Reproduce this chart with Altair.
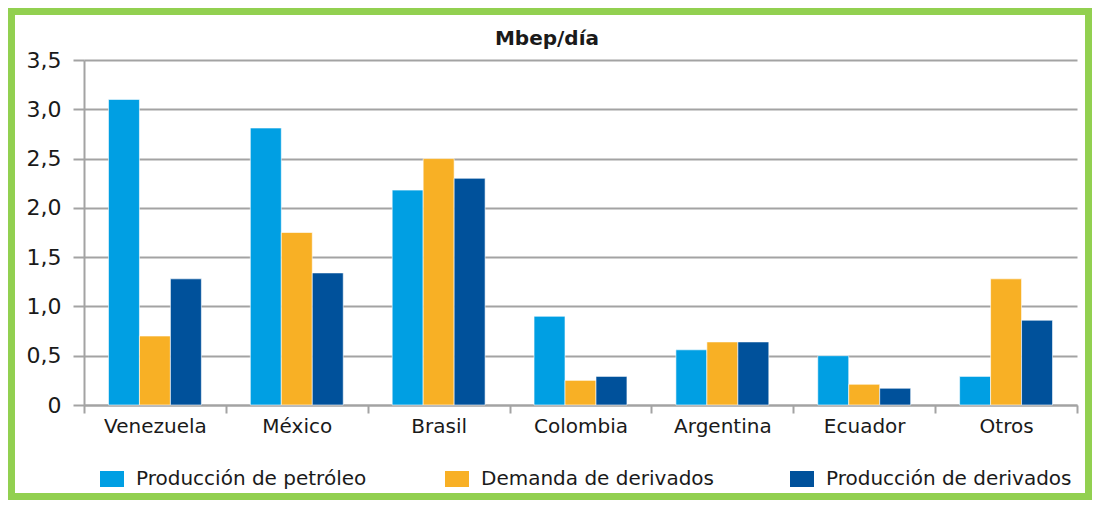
import altair as alt
import pandas as pd

countries = ["Venezuela", "México", "Brasil", "Colombia", "Argentina", "Ecuador", "Otros"]
series = ["Producción de petróleo", "Demanda de derivados", "Producción de derivados"]
prod_petroleo = [3.10, 2.81, 2.18, 0.90, 0.56, 0.50, 0.29]
demanda_derivados = [0.70, 1.75, 2.50, 0.25, 0.64, 0.21, 1.28]
prod_derivados = [1.28, 1.34, 2.30, 0.29, 0.64, 0.17, 0.86]
y_ticks = [0, 0.5, 1.0, 1.5, 2.0, 2.5, 3.0, 3.5]
title_text = ["Mbep/día"]

colors = ["#009FE3", "#F8B025", "#00519B"]
grid_gray = "#A3A3A3"
green = "#92D050"

rows = []
for s, vals in zip(series, [prod_petroleo, demanda_derivados, prod_derivados]):
    for c, v in zip(countries, vals):
        rows.append({"pais": c, "serie": s, "valor": v})
df = pd.DataFrame(rows)

W, H = 1084, 492
PL, PT, PR, PB = 76, 52, 15, 95
pw = W - PL - PR
ph = H - PT - PB

font = "DejaVu Sans"

bars = alt.Chart(df).mark_bar(stroke="white", strokeWidth=0.6).encode(
    x=alt.X(
        "pais:N", sort=countries,
        scale=alt.Scale(paddingInner=0, paddingOuter=0),
        axis=alt.Axis(
            title=None, labelAngle=0, labelFontSize=20, labelColor="#1a1a1a",
            labelFont=font, labelPadding=3, tickBand="extent", tickSize=8,
            tickColor=grid_gray, tickWidth=2, domainColor=grid_gray, domainWidth=2,
            grid=False,
        ),
    ),
    xOffset=alt.XOffset("serie:N", sort=series,
                        scale=alt.Scale(paddingInner=0, paddingOuter=0.79)),
    y=alt.Y(
        "valor:Q",
        scale=alt.Scale(domain=[0, 3.5], nice=False),
        axis=alt.Axis(
            title=None, values=y_ticks,
            labelExpr="datum.value == 0 ? '0' : replace(format(datum.value, '.1f'), '.', ',')",
            labelFontSize=22, labelFont=font, labelColor="#1a1a1a", labelPadding=12,
            tickSize=11, tickColor=grid_gray, tickWidth=2,
            domainColor=grid_gray, domainWidth=2,
            grid=True, gridColor=grid_gray, gridWidth=2,
        ),
    ),
    color=alt.Color(
        "serie:N", sort=series,
        scale=alt.Scale(domain=series, range=colors),
        legend=alt.Legend(
            title=None, orient="none", legendX=18, legendY=409, direction="horizontal",
            columns=3, gridAlign="all", columnPadding=63,
            symbolType="M-1.5,-1L1.5,-1L1.5,1L-1.5,1Z",
            symbolSize=256, symbolStrokeWidth=0, labelFontSize=20, labelFont=font,
            labelColor="#1a1a1a", labelOffset=14, labelLimit=400,
        ),
    ),
)

title = alt.Chart(pd.DataFrame({"t": title_text})).mark_text(
    fontSize=20, fontWeight="bold", font=font, color="#1a1a1a", baseline="middle", align="center"
).encode(text="t:N", x=alt.value(463), y=alt.value(-21))

border = alt.Chart(pd.DataFrame({"b": [0]})).mark_rect(
    fill=None, stroke=green, strokeWidth=7
).encode(
    x=alt.value(-PL + 3.5), x2=alt.value(W - PL - 3.5),
    y=alt.value(-PT + 3.5), y2=alt.value(H - PT - 3.5),
)

chart = alt.layer(bars, title, border).properties(
    width=pw, height=ph,
    autosize=alt.AutoSizeParams(type="none"),
    padding={"left": PL, "top": PT, "right": PR, "bottom": PB},
    background="white",
).configure_view(stroke=None)

chart.save("out.html", embed_options={"renderer": "svg", "actions": False})
